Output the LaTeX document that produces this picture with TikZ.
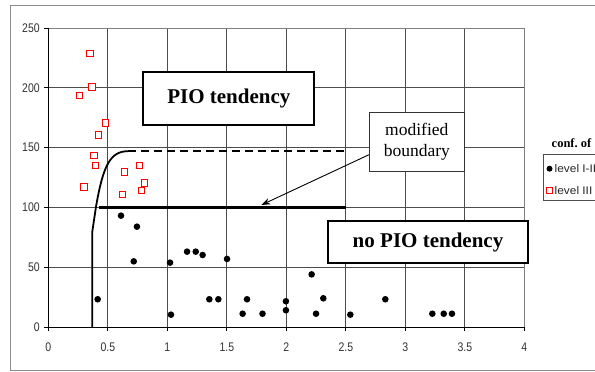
\documentclass[tikz,border=0pt]{standalone}
\usepackage{fontspec}
\setmainfont{Liberation Serif}
\newfontfamily\axisfont{Liberation Sans}
\usetikzlibrary{arrows.meta,calc}
\tikzset{
  frame/.style={draw=black!45, line width=0.9pt},
  grid/.style={draw=black!70, line width=0.7pt},
  border/.style={draw=black!50, line width=0.7pt},
  axis/.style={draw=black, line width=0.8pt},
  ticklbl/.style={font=\axisfont\fontsize{12.5}{14}\selectfont, text=black!80, inner sep=0pt, xscale=0.84},
  dot/.style={circle, fill=black, inner sep=0pt, minimum size=6.6pt},
  sq/.style={rectangle, draw=red, fill=white, inner sep=0pt, minimum size=6.3pt, line width=0.8pt},
  bound/.style={draw=black, line width=2.2pt},
  bigbox/.style={draw=black, fill=white, line width=2pt, font=\fontsize{21}{25}\selectfont\bfseries},
  notebox/.style={draw=black!80, fill=white, line width=0.8pt, align=center, font=\fontsize{17.5}{21.5}\selectfont},
  legtxt/.style={font=\axisfont\fontsize{11}{13}\selectfont, text=black!85, inner sep=0pt, anchor=west, xscale=1.08}
}
\begin{document}
\begin{tikzpicture}[x=1pt,y=-1pt]
\useasboundingbox (0,0) rectangle (595,372);
\clip (0,0) rectangle (595,372);
\fill[white] (0,0) rectangle (595,372);
\draw[frame] (10,5) rectangle (640,370);

\begin{scope}[shift={(48.3pt,-327pt)}, x=119pt, y=1.196pt]
  % grid
  \foreach \gx in {0.5,1,1.5,2,2.5,3,3.5}
    \draw[grid] (\gx,0) -- (\gx,250);
  \foreach \gy in {50,100,150,200}
    \draw[grid] (0,\gy) -- (4,\gy);
  \draw[border] (0,250) -- (4,250) -- (4,0);
  % axes
  \draw[axis] (0,0) -- (0,250);
  \draw[axis] (0,0) -- (4,0);
  \foreach \gy in {0,50,100,150,200,250}
    \draw[axis] (0,\gy) -- ++(-4pt,0);
  \foreach \gx in {0,0.5,1,1.5,2,2.5,3,3.5,4}
    \draw[axis] (\gx,0) -- ++(0,-4pt);
  % tick labels
  \foreach \gy in {0,50,100,150,200,250}
    \node[ticklbl, anchor=east] (yl\gy) at (0,\gy) [xshift=-10pt] {\gy};
  \foreach \gx/\gl [count=\k] in {0/0,0.5/0.5,1/1,1.5/1.5,2/2,2.5/2.5,3/3,3.5/3.5,4/4}
    \node[ticklbl] (xl\k) at (\gx,0) [yshift=-20.5pt] {\gl};

  % boundary curves
  \coordinate (c0) at (0.37,0);
  \coordinate (c1) at (0.37,80);
  \coordinate (c2) at (0.40,100);
  \coordinate (c3) at (0.67,147);
  \coordinate (h0) at (0.43,100);
  \coordinate (h1) at (2.5,100);
  \coordinate (d1) at (2.5,147);
  \draw[draw=black, line width=1.8pt] (c0) -- (c1) -- (c2) .. controls (0.46,135) and (0.52,147) .. (c3);
  \draw[bound, line width=2.6pt] (h0) -- (h1);
  \draw[draw=black, line width=1.4pt, dash pattern=on 8pt off 5pt] (c3) -- (d1);
  \coordinate (ar) at (1.79,102);

  % level III (red squares)
  \foreach \px/\py [count=\i] in {0.35/228.8,0.367/200.7,0.26/193.4,0.479/170.6,0.42/160.5,0.384/143.6,0.398/135.2,0.30/117.1,0.639/129.6,0.765/135.2,0.807/120.4,0.78/114.0,0.62/110.6}
    \node[sq] (r\i) at (\px,\py) {};
  % level I-II (black dots)
  \foreach \px/\py [count=\i] in {0.415/23.2,0.611/93.1,0.745/83.9,0.718/54.9,1.023/53.8,1.031/10.3,1.166/63,1.239/63,1.297/60.2,1.502/56.9,1.353/23.2,1.429/23.2,1.67/23.2,1.633/11.1,1.80/11.1,1.997/21.5,1.997/14,2.213/44,2.311/24,2.25/11.1,2.538/10.3,2.832/23.2,3.227/11.1,3.323/11.1,3.392/11.1}
    \node[dot] (b\i) at (\px,\py) {};
\end{scope}

% boxes
\node[bigbox, minimum width=171pt, minimum height=53.3pt] (pio) at (228.8,98.4) {PIO tendency};
\node[bigbox, minimum width=199.4pt, minimum height=42.3pt] (nopio) at (428,242.2) {no PIO tendency};
\node[notebox, minimum width=95pt, minimum height=58.7pt] (mb) at (416.8,141.7) {modified\\boundary};
\draw[black, line width=0.9pt, -{Stealth[length=9pt,width=6.5pt]}] ([yshift=16.7pt]mb.south west) -- (ar);

% legend
\node[font=\fontsize{12.5}{14}\selectfont\bfseries, anchor=west, inner sep=0pt] (lt) at (551.5,143) {conf.\ of};
\draw[draw=black!70, line width=0.8pt] (543.3,154.3) rectangle (640,200.7);
\node[dot, minimum size=6pt] (ld) at (549.5,168.7) {};
\node[legtxt] (l1) at (554.5,168.7) {level I-II};
\node[sq, minimum size=6pt] (ls) at (549.5,190.3) {};
\node[legtxt] (l2) at (554.5,190.3) {level III};
\end{tikzpicture}
\end{document}
